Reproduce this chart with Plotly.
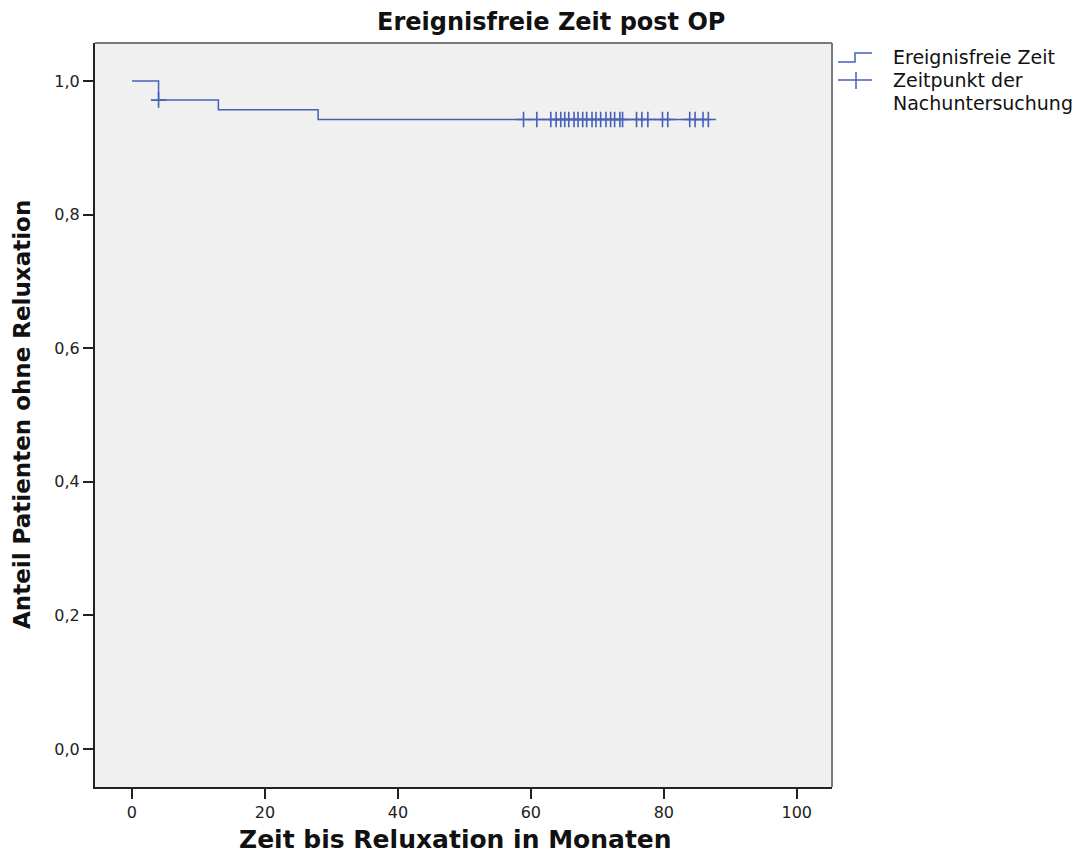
import plotly.graph_objects as go

# Kaplan-Meier step data (event-free proportion)
step_times = [0, 4, 13, 28, 86.7]
step_surv = [1.0, 0.9714, 0.9569, 0.9424, 0.9424]

# Censored observations (Zeitpunkt der Nachuntersuchung)
censor_times = [4.0, 58.9, 60.9, 63.0, 63.8, 64.5, 65.1, 65.7, 66.5, 67.1, 67.8,
                68.4, 69.2, 69.8, 70.5, 71.3, 72.0, 72.6, 73.4, 73.8, 75.9,
                76.7, 77.6, 79.8, 80.6, 83.9, 84.7, 85.9, 86.7]

x_ticks = [0, 20, 40, 60, 80, 100]
y_ticks = [0, 0.2, 0.4, 0.6, 0.8, 1.0]

legend_labels = ["Ereignisfreie Zeit", "Zeitpunkt der", "Nachuntersuchung"]


def surv_at(t):
    s = step_surv[0]
    for ti, si in zip(step_times, step_surv):
        if ti <= t:
            s = si
    return s


censor_surv = [surv_at(t) for t in censor_times]

blue = "#4461b8"
font_family = "DejaVu Sans, Liberation Sans, Arial, sans-serif"

# plot area in pixels
L, R, T, B = 95, 832, 43, 787
W, H = 1075, 867


def px(X):
    return (X - L) / (R - L)


def py(Y):
    return (B - Y) / (B - T)


fig = go.Figure()
fig.add_trace(go.Scatter(
    x=step_times, y=step_surv, mode="lines", line=dict(color=blue, width=1.5, shape="hv"),
    name="Ereignisfreie Zeit", showlegend=False))
fig.add_trace(go.Scatter(
    x=censor_times, y=censor_surv, mode="markers",
    marker=dict(symbol="cross-thin", size=11, line=dict(color=blue, width=1.6), color=blue),
    name="Zeitpunkt der Nachuntersuchung", showlegend=False))

fig.update_layout(
    width=W, height=H,
    margin=dict(l=L, r=W - R, t=T, b=H - B, autoexpand=False),
    paper_bgcolor="white", plot_bgcolor="#f0f0f0",
    separators=",.",
    font=dict(family=font_family, size=16, color="#222222"),
    xaxis=dict(range=[-5.56, 105.3], tickvals=x_ticks, showgrid=False, zeroline=False,
               automargin=False,
               ticks="outside", ticklen=10, tickwidth=2, tickcolor="#222222",
               showline=True, linecolor="#222222", linewidth=2,
               tickfont=dict(size=16, color="#222222")),
    yaxis=dict(range=[-0.0569, 1.0569], tickvals=y_ticks, tickformat=".1f",
               showgrid=False, zeroline=False, automargin=False,
               ticks="outside", ticklen=10, tickwidth=2, tickcolor="#222222",
               showline=True, linecolor="#222222", linewidth=2,
               tickfont=dict(size=16, color="#222222")),
    showlegend=False,
)

# frame (top/right grey edges)
fig.add_shape(type="line", xref="paper", yref="paper", x0=0, x1=1, y0=1, y1=1,
              line=dict(color="#7a7a7a", width=2), layer="above")
fig.add_shape(type="line", xref="paper", yref="paper", x0=1, x1=1, y0=0, y1=1,
              line=dict(color="#7a7a7a", width=2), layer="above")

# titles
fig.add_annotation(text="<b>Ereignisfreie Zeit post OP</b>", xref="paper", yref="paper",
                   x=px(551), y=py(22), xanchor="center", yanchor="middle", showarrow=False,
                   font=dict(size=24, color="#111111", family=font_family))
fig.add_annotation(text="<b>Zeit bis Reluxation in Monaten</b>", xref="paper", yref="paper",
                   x=px(455), y=py(839), xanchor="center", yanchor="middle", showarrow=False,
                   font=dict(size=25, color="#111111", family=font_family))
fig.add_annotation(text="<b>Anteil Patienten ohne Reluxation</b>", xref="paper", yref="paper",
                   x=px(22), y=py(415), xanchor="center", yanchor="middle", showarrow=False,
                   textangle=-90, font=dict(size=23, color="#111111", family=font_family))

# legend (custom)
fig.add_shape(type="path", xref="paper", yref="paper",
              path=f"M {px(838)},{py(62)} L {px(855)},{py(62)} L {px(855)},{py(53)} L {px(872)},{py(53)}",
              line=dict(color=blue, width=1.5))
fig.add_shape(type="line", xref="paper", yref="paper", x0=px(838), x1=px(872), y0=py(80), y1=py(80),
              line=dict(color=blue, width=1.5))
fig.add_shape(type="line", xref="paper", yref="paper", x0=px(856), x1=px(856), y0=py(72), y1=py(89),
              line=dict(color=blue, width=1.5))
for lbl, yy in zip(legend_labels, [57, 80, 103]):
    fig.add_annotation(text=lbl, xref="paper", yref="paper", x=px(891), y=py(yy),
                       xanchor="left", yanchor="middle", showarrow=False,
                       font=dict(size=19, color="#111111", family=font_family))

fig.write_html("out.html", config={"displayModeBar": False},
               post_script="document.body.style.margin='0px';")
